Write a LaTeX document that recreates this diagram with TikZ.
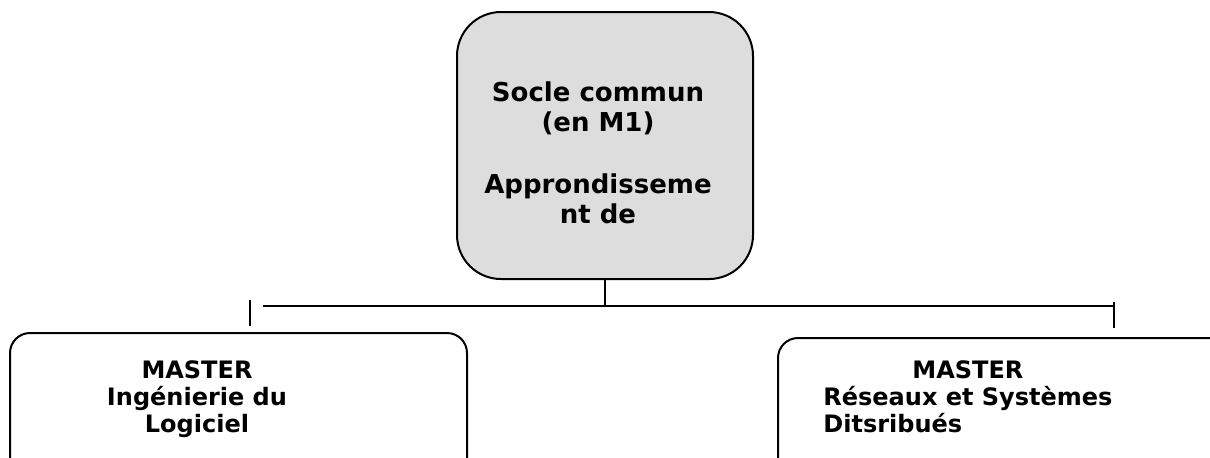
\documentclass[tikz,border=0pt]{standalone}
\usepackage{fontspec}
\setmainfont{DejaVu Sans}
\usepackage{tikz}
\usetikzlibrary{calc}
\definecolor{socleGray}{HTML}{DDDDDD}
\tikzset{
  bloc/.style={draw=black, line width=1pt, rectangle, inner sep=0pt},
  libelle/.style={font=\fontsize{12}{13.5}\selectfont\bfseries, inner sep=0pt},
  trait/.style={line width=0.8pt}
}

\begin{document}
\begin{tikzpicture}[x=0.5pt, y=-0.5pt, line cap=butt]

  \useasboundingbox (0,0) rectangle (1210,457);
  \clip (0,0) rectangle (1210,457);

  % boites
  \node[bloc, fill=socleGray, rounded corners=22pt, minimum width=148pt, minimum height=133.5pt] (socle) at (605,145.5) {};
  \node[bloc, rounded corners=10pt, minimum width=228.5pt, minimum height=80pt] (genielog) at (238.5,413) {};
  \node[bloc, rounded corners=10pt, minimum width=240pt, minimum height=80pt] (reseaux) at (1018,418) {};

  % textes
  \node[libelle, font=\fontsize{13}{15}\selectfont\bfseries, align=center] (socletxt) at (598,153) {Socle commun\\(en M1)\\[16pt]Approndisseme\\nt de};
  \node[libelle, align=center] (genielogtxt) at (197,399) {MASTER\\Ingénierie du\\Logiciel};
  \node[libelle, anchor=west] (reseauxtxt) at (823,400) {\begin{tabular}{@{}l@{}}\multicolumn{1}{@{}c@{}}{MASTER}\\Réseaux et Systèmes\\Ditsribués\end{tabular}};

  % liaisons
  \coordinate (busL) at (263,306);
  \coordinate (busR) at (1113,306);
  \coordinate (tickLa) at (250,300);
  \coordinate (tickLb) at (250,326);
  \coordinate (tickRa) at (1114,302);
  \coordinate (tickRb) at (1114,328);

  \draw[trait] (socle.south) -- (socle.south |- busL);
  \draw[trait] (busL) -- (busR);
  \draw[trait] (tickLa) -- (tickLb);
  \draw[trait] (tickRa) -- (tickRb);

\end{tikzpicture}
\end{document}
